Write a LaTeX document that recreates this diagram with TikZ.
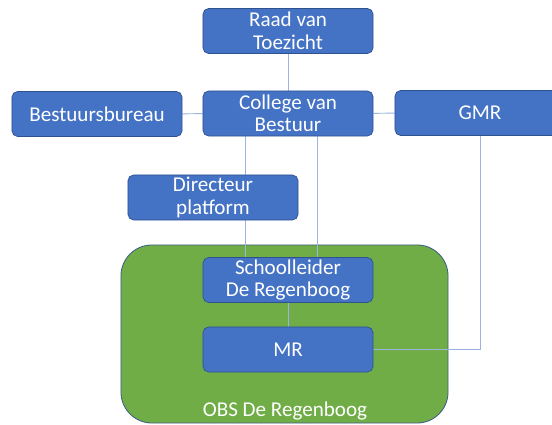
\documentclass[tikz,border=0pt]{standalone}
\usepackage{fontspec}
\setmainfont{Carlito}
\usetikzlibrary{calc}
\definecolor{blok}{HTML}{4472C4}
\definecolor{blokrand}{HTML}{2F528F}
\definecolor{lijn}{HTML}{9BB5E0}
\definecolor{school}{HTML}{70AD47}
\definecolor{schoolrand}{HTML}{3E5F85}
\pgfdeclarelayer{achter}
\pgfdeclarelayer{midden}
\pgfsetlayers{achter,midden,main}

\begin{document}
\begin{tikzpicture}[x=0.025cm, y=-0.025cm,
  blokje/.style={draw=blokrand, line width=0.5pt, fill=blok, rounded corners=4pt,
    minimum width=4.25cm, minimum height=1.125cm, text=white, align=center,
    font=\fontsize{15}{16}\selectfont, inner sep=1pt},
  verbinding/.style={draw=lijn, line width=0.7pt}]
\useasboundingbox (0,0) rectangle (552,425);
\clip (0,0) rectangle (552,425);

% Bestuur
\node[blokje] (rvt) at (288,31) {Raad van\\Toezicht};
\node[blokje] (cvb) at (288,113.5) {College van\\Bestuur};
\node[blokje] (bb) at (97,114) {Bestuursbureau};
\node[blokje] (gmr) at (480,113) {GMR};
\node[blokje] (dp) at (213,197.5) {Directeur\\platform};

% School
\node[blokje] (sl) at (288,280) {Schoolleider\\De Regenboog};
\node[blokje] (mr) at (288,349.5) {MR};
\begin{pgfonlayer}{achter}
\node[draw=schoolrand, line width=0.6pt, fill=school, rounded corners=22pt,
  minimum width=8.175cm, minimum height=4.45cm] (obs) at (284.5,334) {};
\end{pgfonlayer}
\node[text=white, font=\fontsize{15}{16}\selectfont] (obslabel) at (285,411) {OBS De Regenboog};

% Lijnen
\begin{pgfonlayer}{midden}
\draw[verbinding] (rvt) -- (cvb);
\draw[verbinding] (bb) -- (cvb);
\draw[verbinding] (cvb) -- (gmr);
\draw[verbinding] ([xshift=-1.075cm]cvb.south) -- ([xshift=-1.075cm]sl.north);
\draw[verbinding] ([xshift=0.725cm]cvb.south) -- ([xshift=0.725cm]sl.north);
\draw[verbinding] (sl) -- (mr);
\draw[verbinding] (gmr.south) |- (mr.east);
\end{pgfonlayer}
\end{tikzpicture}
\end{document}
